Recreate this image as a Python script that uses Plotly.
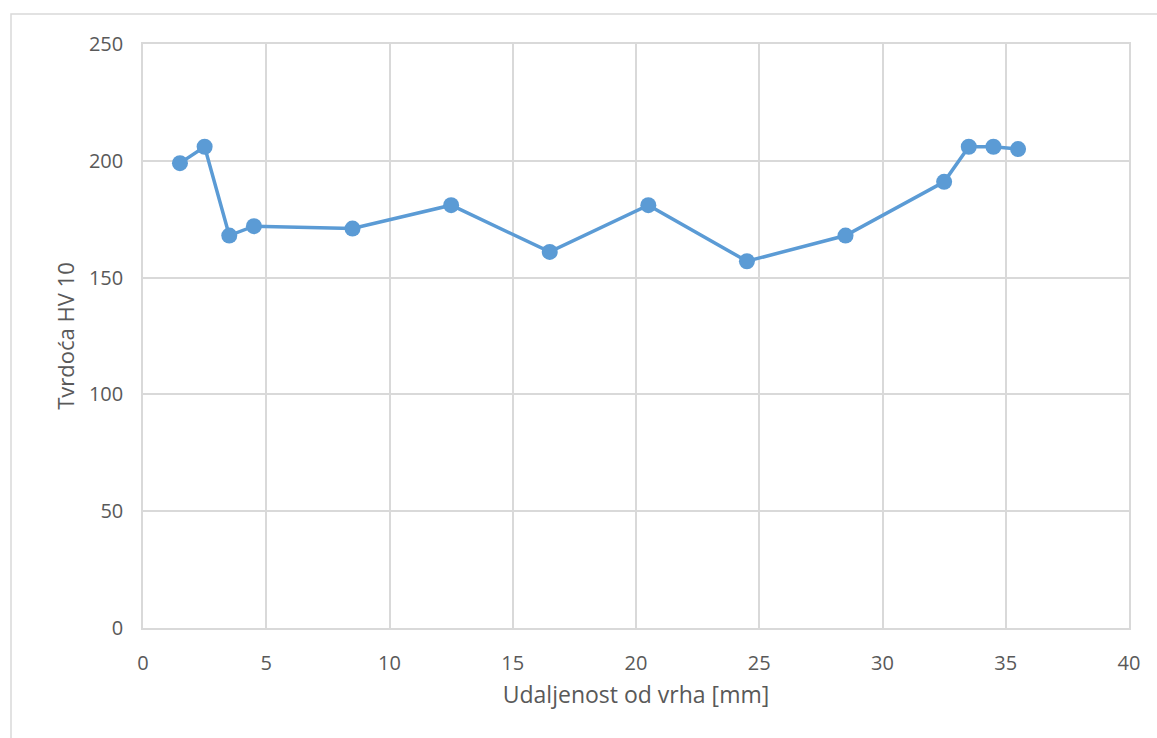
import plotly.graph_objects as go

# Hardness profile measured along the specimen
udaljenost_mm = [1.5, 2.5, 3.5, 4.5, 8.5, 12.5, 16.5, 20.5, 24.5, 28.5, 32.5, 33.5, 34.5, 35.5]
tvrdoca_hv10 = [199, 206, 168, 172, 171, 181, 161, 181, 157, 168, 191, 206, 206, 205]

x_ticks = [0, 5, 10, 15, 20, 25, 30, 35, 40]
y_ticks = [0, 50, 100, 150, 200, 250]

W, H = 1157, 738
L, R, T, B = 143, 28, 44, 110
pw, ph = W - L - R, H - T - B

blue = "#5b9bd5"
grid = "#d9d9d9"
txt = "#595959"
font_family = "Open Sans, Liberation Sans, sans-serif"

fig = go.Figure(
    go.Scatter(
        x=udaljenost_mm,
        y=tvrdoca_hv10,
        mode="lines+markers",
        line=dict(color=blue, width=3.5),
        marker=dict(color=blue, size=16),
        showlegend=False,
    )
)

axis_common = dict(
    showgrid=True,
    gridcolor=grid,
    gridwidth=1.5,
    showline=True,
    linecolor=grid,
    linewidth=1.5,
    mirror=True,
    zeroline=False,
    ticks="",
    tickfont=dict(family=font_family, size=20, color=txt),
)

fig.update_xaxes(
    range=[0, 40],
    tickvals=x_ticks,
    ticktext=[str(v) for v in x_ticks],
    ticklabelstandoff=16,
    title=dict(text="Udaljenost od vrha [mm]", font=dict(family=font_family, size=23, color=txt), standoff=12),
    **axis_common,
)
fig.update_yaxes(
    range=[0, 250],
    tickvals=y_ticks,
    ticktext=[str(v) for v in y_ticks],
    ticklabelstandoff=14,
    title=dict(text="Tvrdoća HV 10", font=dict(family=font_family, size=22, color=txt), standoff=8),
    **axis_common,
)

# Chart-area frame
fig.add_shape(
    type="rect",
    xref="paper", yref="paper",
    x0=(11 - L) / pw, x1=(W + 5 - L) / pw,
    y0=-(H + 5 - (T + ph)) / ph, y1=(T + ph - 14) / ph,
    line=dict(color=grid, width=1.5),
    fillcolor="rgba(0,0,0,0)",
    layer="below",
)

fig.update_layout(
    width=W,
    height=H,
    margin=dict(l=L, r=R, t=T, b=B),
    paper_bgcolor="white",
    plot_bgcolor="white",
    font=dict(family=font_family, color=txt),
)

fig.write_html("out.html")
